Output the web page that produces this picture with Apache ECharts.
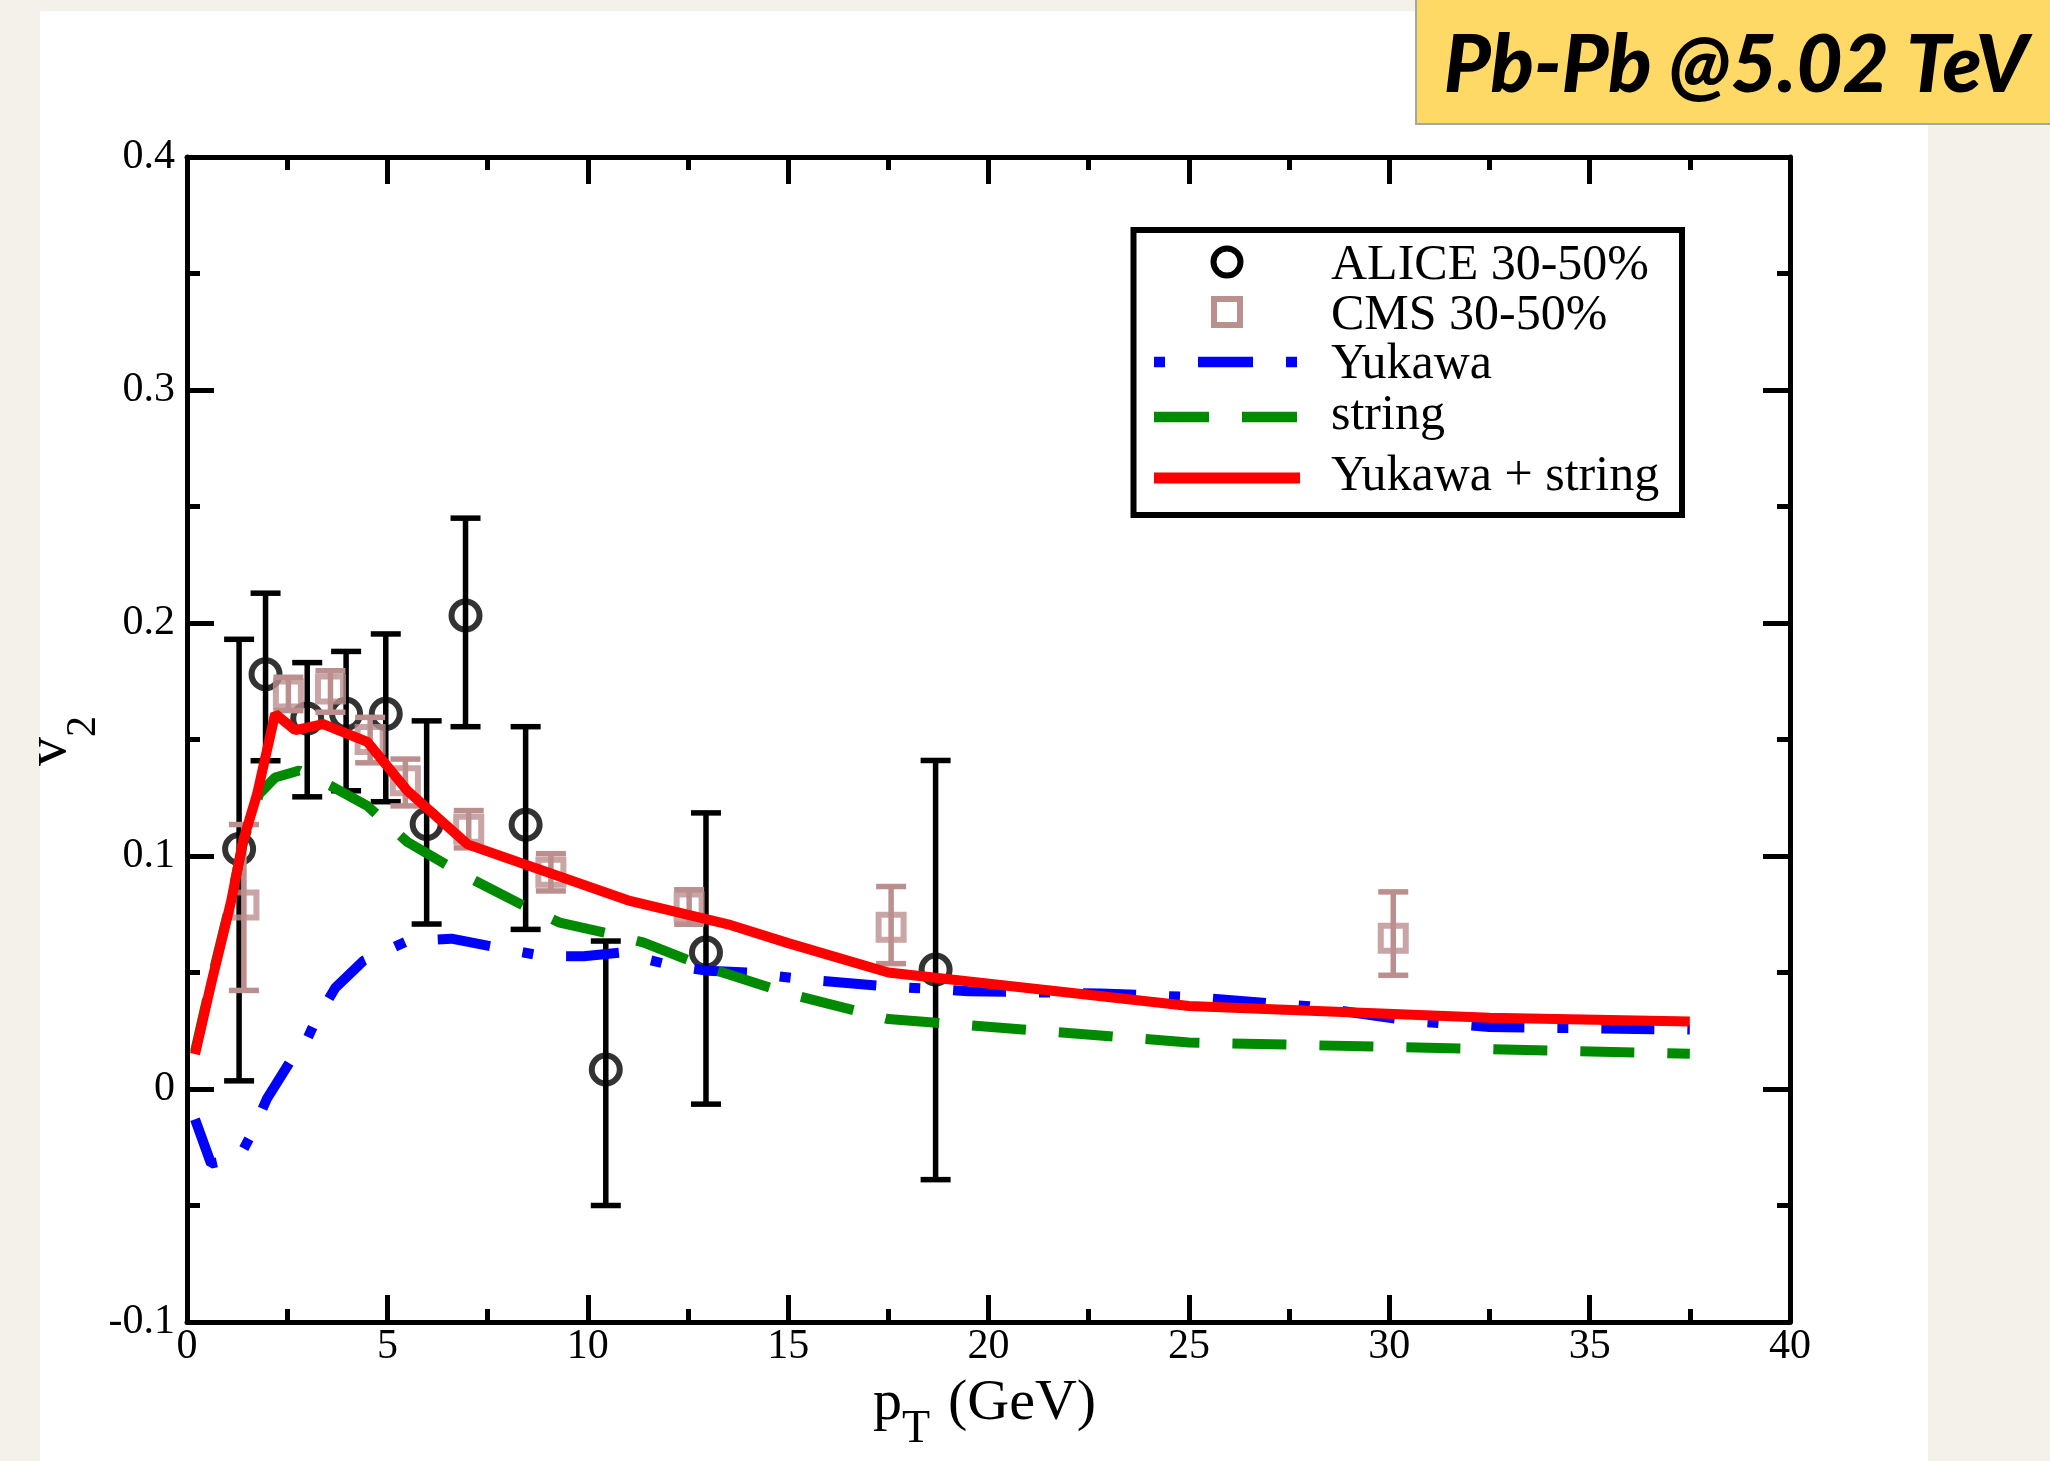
<!DOCTYPE html>
<html>
<head>
<meta charset="utf-8">
<script src="https://cdn.jsdelivr.net/npm/echarts@6/dist/echarts.min.js"></script>
<style>
  html, body { margin: 0; padding: 0; background: #f4f1eb; }
  #chart { width: 2050px; height: 1461px; }
</style>
</head>
<body>
<div id="chart"></div>
<script>
// ---- axis ticks ----
const xTickLabels = ['0', '5', '10', '15', '20', '25', '30', '35', '40'];
const yTickLabels = ['-0.1', '0', '0.1', '0.2', '0.3', '0.4'];
const X_MIN = 0, X_MAX = 40, X_STEP = 5;
const Y_MIN = -0.1, Y_MAX = 0.4, Y_STEP = 0.1;

// ---- ALICE 30-50% (pT, v2, error band) ----
const alicePt = [1.3, 1.96, 3.0, 3.97, 4.96, 5.98, 6.95, 8.45, 10.45, 12.95, 18.68];
const aliceV2 = [0.103, 0.178, 0.159, 0.161, 0.161, 0.1137, 0.2032, 0.1134, 0.0084, 0.0586, 0.0513];
const aliceHi = [0.193, 0.2128, 0.183, 0.1878, 0.1953, 0.158, 0.245, 0.1555, 0.0635, 0.1185, 0.141];
const aliceLo = [0.0035, 0.1409, 0.1254, 0.128, 0.1233, 0.0708, 0.1555, 0.0685, -0.050, -0.0065, -0.0389];

// ---- CMS 30-50% ----
const cmsPt = [1.42, 2.53, 3.58, 4.57, 5.45, 7.03, 9.08, 12.53, 17.57, 30.1];
const cmsV2 = [0.079, 0.1695, 0.1717, 0.150, 0.1323, 0.1115, 0.093, 0.0781, 0.0694, 0.0647];
const cmsHi = [0.1135, 0.1767, 0.1795, 0.1595, 0.1416, 0.1195, 0.101, 0.0855, 0.0869, 0.0846];
const cmsLo = [0.0423, 0.1624, 0.1617, 0.140, 0.1215, 0.1035, 0.085, 0.0707, 0.0538, 0.0488];

// ---- model curves ----
const yukawaPt = [0.2, 0.6, 1.3, 1.6, 2.0, 2.6, 2.85, 3.2, 3.7, 4.4, 5.5, 6.6, 7.5, 8.9, 9.9, 10.8, 12.1, 13, 14, 15.4, 17.5, 19.5, 22.8, 25, 28, 30.5, 32.5, 37.5];
const yukawaV2 = [-0.013, -0.032, -0.0295, -0.0196, -0.004, 0.0125, 0.0158, 0.029, 0.0434, 0.055, 0.0635, 0.0645, 0.0615, 0.057, 0.057, 0.0585, 0.053, 0.0507, 0.050, 0.047, 0.044, 0.042, 0.041, 0.0395, 0.0355, 0.0293, 0.0266, 0.0255];

const stringPt = [0.2, 0.6, 1.1, 1.4, 1.8, 2.2, 2.8, 3.6, 4.5, 5.5, 7, 8.5, 9.3, 10.6, 11.4, 13, 15, 17.5, 25, 37.5];
const stringV2 = [0.016, 0.046, 0.081, 0.106, 0.1266, 0.1337, 0.1367, 0.130, 0.1215, 0.106, 0.091, 0.0778, 0.0714, 0.0664, 0.0628, 0.052, 0.041, 0.030, 0.020, 0.0151];

const combinedPt = [0.2, 0.6, 1.1, 1.4, 1.75, 2.2, 2.7, 3.4, 4.5, 5.5, 7, 11, 13.5, 15, 17.5, 25, 32.5, 37.5];
const combinedV2 = [0.015, 0.045, 0.0805, 0.1065, 0.1266, 0.161, 0.154, 0.1566, 0.149, 0.128, 0.105, 0.081, 0.0707, 0.0626, 0.050, 0.0356, 0.0306, 0.029];

const legendNames = ['ALICE 30-50%', 'CMS 30-50%', 'Yukawa', 'string', 'Yukawa + string'];

const SERIF = '"Liberation Serif", "Times New Roman", serif';
const COL = { alice: '#000000', cms: '#bc8f8f', yukawa: '#0000ff', string: '#008a00', combined: '#ff0000' };

const pairs = (xs, ys) => xs.map((x, i) => [x, ys[i]]);
const bars = (xs, lo, hi) => xs.map((x, i) => [x, lo[i], hi[i]]);

function errorBarItem(capHalf, color, width) {
  return function (params, api) {
    const x = api.value(0);
    const pLo = api.coord([x, api.value(1)]);
    const pHi = api.coord([x, api.value(2)]);
    const style = { stroke: color, lineWidth: width, fill: null };
    return {
      type: 'group',
      children: [
        { type: 'line', shape: { x1: pLo[0], y1: pLo[1], x2: pHi[0], y2: pHi[1] }, style },
        { type: 'line', shape: { x1: pLo[0] - capHalf, y1: pLo[1], x2: pLo[0] + capHalf, y2: pLo[1] }, style },
        { type: 'line', shape: { x1: pHi[0] - capHalf, y1: pHi[1], x2: pHi[0] + capHalf, y2: pHi[1] }, style }
      ]
    };
  };
}

const axisLine = { show: true, onZero: false, lineStyle: { color: '#000', width: 5 } };
const axisTick = { show: true, inside: true, length: 27, lineStyle: { color: '#000', width: 5 } };
const minorTick = { show: true, splitNumber: 2, length: 13, lineStyle: { color: '#000', width: 5 } };

function xAxisDef(pos, labels) {
  return {
    type: 'value', position: pos, min: X_MIN, max: X_MAX, interval: X_STEP,
    axisLine, axisTick, minorTick, splitLine: { show: false },
    axisLabel: {
      show: labels, margin: 4, color: '#000', fontFamily: SERIF, fontSize: 42,
      formatter: v => xTickLabels[Math.round((v - X_MIN) / X_STEP)]
    }
  };
}
function yAxisDef(pos, labels) {
  return {
    type: 'value', position: pos, min: Y_MIN, max: Y_MAX, interval: Y_STEP,
    axisLine, axisTick, minorTick, splitLine: { show: false },
    axisLabel: {
      show: labels, margin: 12, color: '#000', fontFamily: SERIF, fontSize: 42,
      formatter: v => yTickLabels[Math.round((v - Y_MIN) / Y_STEP)]
    }
  };
}

// legend block drawn as graphics
const LG = { x: 1133.5, y: 230, w: 548.5, h: 285, iconX0: 1154, iconX1: 1298, iconCx: 1227, textX: 1331 };
const legendRows = [262, 312, 362, 417, 478];
const legendTextY = [266, 316, 365, 416, 477];

const legendGraphics = [
  { type: 'rect', z: 50, shape: { x: LG.x, y: LG.y, width: LG.w, height: LG.h },
    style: { fill: '#fff', stroke: '#000', lineWidth: 6 } },
  { type: 'circle', z: 51, shape: { cx: LG.iconCx, cy: legendRows[0], r: 13.5 },
    style: { fill: null, stroke: COL.alice, lineWidth: 6 } },
  { type: 'rect', z: 51, shape: { x: LG.iconCx - 13, y: legendRows[1] - 13, width: 26, height: 26 },
    style: { fill: null, stroke: COL.cms, lineWidth: 6 } },
  { type: 'line', z: 51, shape: { x1: LG.iconX0, y1: legendRows[2], x2: LG.iconX1, y2: legendRows[2] },
    style: { stroke: COL.yukawa, lineWidth: 10.5, lineDash: [11, 33, 55, 33] } },
  { type: 'line', z: 51, shape: { x1: LG.iconX0, y1: legendRows[3], x2: LG.iconX1, y2: legendRows[3] },
    style: { stroke: COL.string, lineWidth: 10.5, lineDash: [55, 33] } },
  { type: 'line', z: 51, shape: { x1: LG.iconX0, y1: legendRows[4], x2: LG.iconX1 + 2, y2: legendRows[4] },
    style: { stroke: COL.combined, lineWidth: 11 } }
].concat(legendNames.map((name, i) => ({
  type: 'text', z: 52, x: LG.textX, y: legendTextY[i],
  style: { text: name, fill: '#000', font: '50px ' + SERIF, align: 'left', verticalAlign: 'middle' }
})));

const option = {
  animation: false,
  backgroundColor: '#f4f1eb',
  grid: { left: 187, right: 260, top: 157, bottom: 139, containLabel: false },
  xAxis: [xAxisDef('bottom', true), xAxisDef('top', false)],
  yAxis: [yAxisDef('left', true), yAxisDef('right', false)],
  graphic: {
    elements: [
      // white sheet behind the plot
      { type: 'rect', z: -100, shape: { x: 40, y: 11, width: 1888, height: 1460 },
        style: { fill: '#ffffff' } },
      // collision system tag
      { type: 'rect', z: 60, shape: { x: 1416, y: -3, width: 640, height: 127 },
        style: { fill: '#ffd966', stroke: '#a6a6a6', lineWidth: 2 } },
      { type: 'text', z: 61, x: 1736, y: 66,
        style: { text: 'Pb-Pb @5.02 TeV', fill: '#000', font: 'italic 900 80px Lato, "Open Sans", sans-serif',
                 align: 'center', verticalAlign: 'middle' } },
      // x-axis title: p_T (GeV)
      { type: 'text', x: 873, y: 1404,
        style: { text: 'p', fill: '#000', font: '58px ' + SERIF, align: 'left', verticalAlign: 'middle' } },
      { type: 'text', x: 902, y: 1430,
        style: { text: 'T', fill: '#000', font: '46px ' + SERIF, align: 'left', verticalAlign: 'middle' } },
      { type: 'text', x: 948, y: 1404,
        style: { text: '(GeV)', fill: '#000', font: '58px ' + SERIF, align: 'left', verticalAlign: 'middle' } },
      // y-axis title: v_2
      { type: 'text', x: 50, y: 766, rotation: Math.PI / 2,
        style: { text: 'v', fill: '#000', font: '58px ' + SERIF, align: 'left', verticalAlign: 'middle' } },
      { type: 'text', x: 84, y: 737, rotation: Math.PI / 2,
        style: { text: '2', fill: '#000', font: '42px ' + SERIF, align: 'left', verticalAlign: 'middle' } }
    ].concat(legendGraphics)
  },
  series: [
    {
      name: 'ALICE bars', type: 'custom', silent: true, z: 3,
      renderItem: errorBarItem(15, COL.alice, 5.5),
      encode: { x: 0, y: [1, 2] },
      data: bars(alicePt, aliceLo, aliceHi)
    },
    {
      name: legendNames[0], type: 'scatter', silent: true, z: 4,
      symbol: 'circle', symbolSize: 28,
      itemStyle: { color: 'rgba(0,0,0,0)', borderColor: COL.alice, borderWidth: 6 },
      data: pairs(alicePt, aliceV2)
    },
    {
      name: 'CMS bars', type: 'custom', silent: true, z: 5,
      renderItem: errorBarItem(15, COL.cms, 5.5),
      encode: { x: 0, y: [1, 2] },
      data: bars(cmsPt, cmsLo, cmsHi)
    },
    {
      name: legendNames[1], type: 'scatter', silent: true, z: 6,
      symbol: 'rect', symbolSize: 25,
      itemStyle: { color: 'rgba(0,0,0,0)', borderColor: COL.cms, borderWidth: 6 },
      data: pairs(cmsPt, cmsV2)
    },
    {
      name: legendNames[2], type: 'line', silent: true, z: 7, showSymbol: false, symbol: 'none',
      lineStyle: { color: COL.yukawa, width: 10, type: [53, 33, 11, 33], cap: 'butt' },
      data: pairs(yukawaPt, yukawaV2)
    },
    {
      name: legendNames[3], type: 'line', silent: true, z: 8, showSymbol: false, symbol: 'none',
      lineStyle: { color: COL.string, width: 10, type: [54, 33], cap: 'butt' },
      data: pairs(stringPt, stringV2)
    },
    {
      name: legendNames[4], type: 'line', silent: true, z: 9, showSymbol: false, symbol: 'none',
      lineStyle: { color: COL.combined, width: 10 },
      data: pairs(combinedPt, combinedV2)
    }
  ]
};

const chart = echarts.init(document.getElementById('chart'), null, { renderer: 'canvas' });
chart.setOption(option);
</script>
</body>
</html>
